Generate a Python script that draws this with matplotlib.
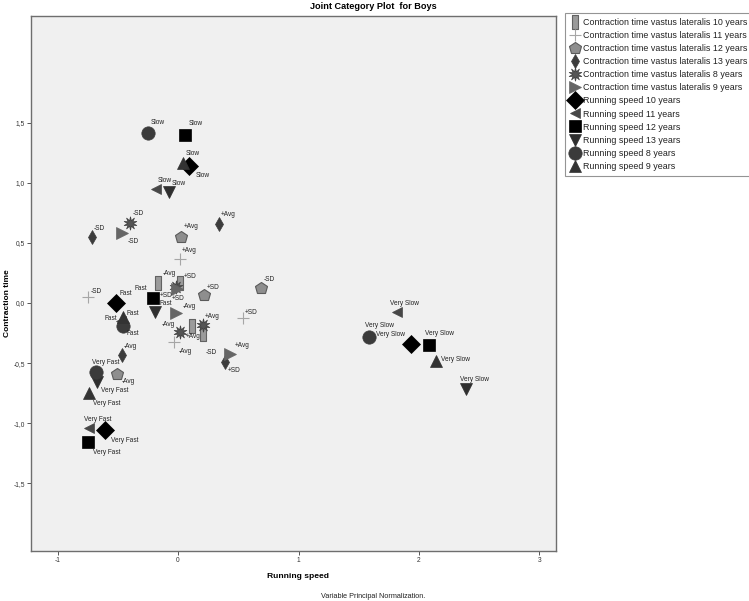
import matplotlib
matplotlib.use("Agg")
import matplotlib.pyplot as plt
from matplotlib.path import Path
from matplotlib.ticker import FixedLocator, FuncFormatter
import numpy as np

plt.rcParams['font.family'] = ['Liberation Sans', 'DejaVu Sans']

title = "Joint Category Plot  for Boys"
x_label = "Running speed"
y_label = "Contraction time"
footnote = "Variable Principal Normalization."

x_ticks = [-1, 0, 1, 2, 3]
y_ticks = [-1.5, -1.0, -0.5, 0.0, 0.5, 1.0, 1.5]

ct_categories = ["-SD", "-Avg", "+Avg", "+SD"]
rs_categories = ["Very Fast", "Fast", "Slow", "Very Slow"]

# Contraction time vastus lateralis, order: -SD, -Avg, +Avg, +SD
ct10_x = [0.207, -0.163, 0.114, 0.017]
ct10_y = [-0.258, 0.164, -0.189, 0.164]
ct11_x = [-0.744, -0.033, 0.017, 0.542]
ct11_y = [0.047, -0.327, 0.366, -0.127]
ct12_x = [0.689, -0.509, 0.027, 0.216]
ct12_y = [0.122, -0.590, 0.551, 0.064]
ct13_x = [-0.716, -0.467, 0.340, 0.390]
ct13_y = [0.551, -0.432, 0.657, -0.490]
ct8_x = [-0.401, 0.017, 0.205, -0.019]
ct8_y = [0.667, -0.244, -0.183, 0.135]
ct9_x = [-0.462, -0.017, 0.432, -0.008]
ct9_y = [0.584, -0.086, -0.424, 0.116]

# Running speed, order: Very Fast, Fast, Slow, Very Slow
rs10_x = [-0.606, -0.515, 0.094, 1.931]
rs10_y = [-1.056, -0.002, 1.139, -0.343]
rs11_x = [-0.739, -0.473, -0.185, 1.815]
rs11_y = [-1.042, -0.150, 0.945, -0.077]
rs12_x = [-0.749, -0.205, 0.058, 2.085]
rs12_y = [-1.153, 0.039, 1.397, -0.349]
rs13_x = [-0.670, -0.191, -0.077, 2.390]
rs13_y = [-0.654, -0.072, 0.920, -0.715]
rs8_x = [-0.680, -0.459, -0.251, 1.588]
rs8_y = [-0.576, -0.191, 1.416, -0.280]
rs9_x = [-0.736, -0.459, 0.044, 2.141]
rs9_y = [-0.751, -0.119, 1.161, -0.482]

# ---- styling / layout ----
rect_marker = Path([(-0.23, -0.5), (0.23, -0.5), (0.23, 0.5), (-0.23, 0.5), (-0.23, -0.5)],
                   [Path.MOVETO, Path.LINETO, Path.LINETO, Path.LINETO, Path.CLOSEPOLY])
n_sp = 10
ang = np.linspace(0, 2 * np.pi, 2 * n_sp, endpoint=False) + np.pi / 2
rad = np.where(np.arange(2 * n_sp) % 2 == 0, 1.0, 0.42)
star_verts = list(zip(rad * np.cos(ang), rad * np.sin(ang)))
star_verts.append(star_verts[0])
star_marker = Path(star_verts, [Path.MOVETO] + [Path.LINETO] * (2 * n_sp - 1) + [Path.CLOSEPOLY])

# label offsets in pixels (dx, dy) for each point
off_ct10 = [(3, -18), (4, 10), (-6, -11), (4, 7)]
off_ct11 = [(2, 6), (5, -9), (2, 8), (1, 6)]
off_ct12 = [(3, 9), (5, -8), (2, 10), (3, 8)]
off_ct13 = [(2, 8), (2, 8), (2, 9), (3, -9)]
off_ct8 = [(3, 9), (-18, 8), (2, 8), (-4, -12)]
off_ct9 = [(5, -9), (7, 7), (5, 8), (-17, -6)]
off_rs10 = [(6, -11), (4, 10), (6, -10), (-35, 10)]
off_rs11 = [(-5, 9), (-17, 3), (2, 9), (-7, 9)]
off_rs12 = [(5, -11), (-19, 10), (4, 11), (-4, 11)]
off_rs13 = [(4, -9), (5, 8), (3, 9), (-6, 9)]
off_rs8 = [(-4, 10), (4, -8), (3, 10), (-4, 11)]
off_rs9 = [(4, -10), (4, 4), (2, 10), (5, 1)]

series = [
    ("Contraction time vastus lateralis 10 years", ct10_x, ct10_y, ct_categories, off_ct10,
     dict(marker=rect_marker, ms=9.8, mfc='#9b9b9b', mec='#626262', mew=0.8)),
    ("Contraction time vastus lateralis 11 years", ct11_x, ct11_y, ct_categories, off_ct11,
     dict(marker='+', ms=9.0, mfc='#a6a6a6', mec='#a6a6a6', mew=0.8)),
    ("Contraction time vastus lateralis 12 years", ct12_x, ct12_y, ct_categories, off_ct12,
     dict(marker='p', ms=8.6, mfc='#8e8e8e', mec='#5a5a5a', mew=0.8)),
    ("Contraction time vastus lateralis 13 years", ct13_x, ct13_y, ct_categories, off_ct13,
     dict(marker='d', ms=6.8, mfc='#3c3c3c', mec='#3c3c3c', mew=0.5)),
    ("Contraction time vastus lateralis 8 years", ct8_x, ct8_y, ct_categories, off_ct8,
     dict(marker=star_marker, ms=9.5, mfc='#555555', mec='#444444', mew=0.6)),
    ("Contraction time vastus lateralis 9 years", ct9_x, ct9_y, ct_categories, off_ct9,
     dict(marker='>', ms=8.0, mfc='#666666', mec='#666666', mew=0.5)),
    ("Running speed 10 years", rs10_x, rs10_y, rs_categories, off_rs10,
     dict(marker='D', ms=9.2, mfc='#000000', mec='#000000', mew=0.5)),
    ("Running speed 11 years", rs11_x, rs11_y, rs_categories, off_rs11,
     dict(marker='<', ms=7.6, mfc='#474747', mec='#474747', mew=0.5)),
    ("Running speed 12 years", rs12_x, rs12_y, rs_categories, off_rs12,
     dict(marker='s', ms=9.3, mfc='#000000', mec='#000000', mew=0.5)),
    ("Running speed 13 years", rs13_x, rs13_y, rs_categories, off_rs13,
     dict(marker='v', ms=8.3, mfc='#2f2f2f', mec='#2f2f2f', mew=0.5)),
    ("Running speed 8 years", rs8_x, rs8_y, rs_categories, off_rs8,
     dict(marker='o', ms=9.6, mfc='#3b3b3b', mec='#3b3b3b', mew=0.5)),
    ("Running speed 9 years", rs9_x, rs9_y, rs_categories, off_rs9,
     dict(marker='^', ms=8.3, mfc='#333333', mec='#333333', mew=0.5)),
]

W, H = 749, 601
fig = plt.figure(figsize=(W / 100, H / 100), dpi=100)
fig.patch.set_facecolor('white')
ax = fig.add_axes([31 / W, (H - 551) / H, (556 - 31) / W, (551 - 16) / H])
ax.set_facecolor('#f0f0f0')

handles = []
for name, xs, ys, cats, offs, st in series:
    h, = ax.plot(xs, ys, linestyle='none', label=name, **st)
    handles.append(h)
    for xv, yv, c, (dx, dy) in zip(xs, ys, cats, offs):
        ax.annotate(c, (xv, yv), xytext=(dx, dy), textcoords='offset pixels',
                    ha='left', va='center', fontsize=4.7, color='#222222')

ax.set_xlim(-1.220, 3.137)
ax.set_ylim(-2.062, 2.386)
ax.xaxis.set_major_locator(FixedLocator(x_ticks))
ax.yaxis.set_major_locator(FixedLocator(y_ticks))
ax.xaxis.set_major_formatter(FuncFormatter(lambda v, p: f"{v:.0f}"))
ax.yaxis.set_major_formatter(FuncFormatter(lambda v, p: f"{v:.1f}".replace('.', ',')))
ax.tick_params(axis='both', direction='out', length=3, width=0.7, color='#555555',
               labelsize=4.8, labelcolor='#333333', pad=1.5)
for s in ax.spines.values():
    s.set_color('#6e6e6e')
    s.set_linewidth(1.0)

fig.text(0.499, 1 - 6.5 / H, title, ha='center', va='center', fontsize=6.6, fontweight='bold')
fig.text(298 / W, 1 - 576 / H, x_label, ha='center', va='center', fontsize=6.1, fontweight='bold')
fig.text(7.5 / W, 1 - 303 / H, y_label, ha='center', va='center', rotation=90,
         fontsize=6.0, fontweight='bold')
fig.text(373 / W, 1 - 596 / H, footnote, ha='center', va='center', fontsize=5.2, color='#222222')

leg = fig.legend(handles=handles, loc='upper left', bbox_to_anchor=(565 / W, 1 - 13 / H),
                 bbox_transform=fig.transFigure, borderaxespad=0, frameon=True,
                 fancybox=False, fontsize=6.4, handlelength=1.1, handletextpad=0.35,
                 labelspacing=0.46, borderpad=0.55, numpoints=1)
leg.get_frame().set_edgecolor('#7a7a7a')
leg.get_frame().set_linewidth(0.8)
for t in leg.get_texts():
    t.set_color('#222222')

fig.savefig("out.png", dpi=100, facecolor='white')
